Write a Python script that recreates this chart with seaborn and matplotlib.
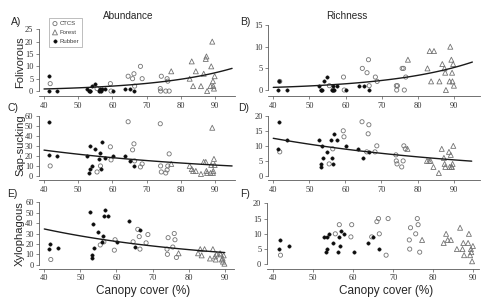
import numpy as np
import matplotlib
matplotlib.use("Agg")
import matplotlib.pyplot as plt
import seaborn as sns

# canopy cover (%) of each site, per land use
rubber_x = [41.4, 41.6, 43.8, 52.6, 53.2, 53.3, 53.5, 53.9, 54.9, 56.1, 56.4, 56.6, 56.9, 57.7, 60.2, 63.6, 65.0, 66.4]
ctcs_x = [41.8, 55.5, 56.5, 59.4, 59.6, 64.6, 65.9, 66.3, 66.5, 68.2, 68.7, 74.0, 74.1, 74.3, 75.6, 76.0, 76.2, 76.6]
forest_x = [77.2, 82.6, 83.2, 83.6, 84.4, 85.9, 86.7, 87.3, 87.5, 87.7, 88.7, 88.9, 89.2, 89.4, 89.5, 89.7, 89.9]

# A) folivorous abundance
fol_ab_rubber = [0, 6, 0, 1, 0, 0, 0, 2, 3, 0, 1, 0, 1, 1, 0, 1, 1, 0]
fol_ab_ctcs = [3, 1, 0, 3, 0, 6, 5, 7, 2, 10, 5, 1, 0, 6, 0, 5, 4, 0]
fol_ab_forest = [8, 5, 12, 2, 8, 2, 7, 13, 14, 0, 2, 10, 20, 4, 2, 1, 6]
# B) folivorous richness
fol_ri_rubber = [0, 2, 0, 1, 0, 0, 0, 2, 3, 0, 1, 0, 0, 1, 0, 1, 1, 0]
fol_ri_ctcs = [2, 1, 0, 3, 0, 5, 4, 7, 1, 3, 2, 1, 0, 1, 5, 5, 0, 3]
fol_ri_forest = [7, 5, 9, 2, 9, 2, 6, 5, 4, 0, 2, 10, 7, 4, 2, 6, 1]
# C) sap-sucking abundance
sap_ab_rubber = [21, 54, 20, 20, 3, 7, 30, 10, 27, 17, 23, 7, 34, 18, 20, 20, 15, 10]
sap_ab_ctcs = [10, 4, 10, 29, 16, 54, 26, 32, 15, 9, 12, 52, 10, 4, 3, 6, 10, 22]
sap_ab_forest = [12, 10, 7, 5, 5, 2, 14, 14, 5, 3, 3, 11, 48, 3, 5, 17, 11]
# D) sap-sucking richness
sap_ri_rubber = [9, 18, 12, 12, 4, 3, 10, 6, 8, 12, 6, 4, 14, 12, 10, 9, 6, 8]
sap_ri_ctcs = [8, 4, 9, 15, 13, 18, 8, 14, 17, 8, 10, 7, 5, 4, 3, 5, 10, 9]
sap_ri_forest = [9, 5, 5, 5, 3, 1, 9, 6, 4, 3, 8, 3, 7, 3, 3, 4, 10]
# E) xylophagous abundance
xyl_ab_rubber = [15, 20, 16, 51, 6, 9, 39, 16, 31, 22, 28, 47, 53, 47, 22, 42, 17, 33]
xyl_ab_ctcs = [5, 19, 22, 14, 24, 22, 34, 27, 15, 21, 29, 15, 10, 26, 17, 30, 24, 7]
xyl_ab_forest = [11, 11, 15, 9, 15, 6, 15, 8, 5, 10, 11, 10, 5, 6, 3, 9, 1]
# F) xylophagous richness
xyl_ri_rubber = [5, 8, 6, 9, 4, 5, 9, 10, 7, 4, 9, 6, 11, 10, 4, 7, 9, 5]
xyl_ri_ctcs = [3, 10, 13, 9, 13, 9, 14, 15, 10, 3, 15, 8, 5, 12, 10, 15, 13, 4]
xyl_ri_forest = [8, 7, 10, 8, 8, 5, 12, 5, 7, 3, 7, 10, 3, 5, 4, 1, 6]

x_ticks = [40, 50, 60, 70, 80, 90]


def poisson_fit(x, y):
    # plain poisson glm (log link) by IRLS
    X = np.column_stack([np.ones(len(x)), x])
    b = np.array([np.log(np.mean(y)), 0.0])
    for _ in range(100):
        eta = X @ b
        mu = np.exp(eta)
        z = eta + (y - mu) / mu
        b = np.linalg.solve(X.T @ (mu[:, None] * X), X.T @ (mu * z))
    return b


sns.set_style("ticks")
plt.rcParams["font.family"] = ["Liberation Sans", "DejaVu Sans"]

fig = plt.figure(figsize=(4.92, 3.06), dpi=100)
W, H = 492.0, 306.0

# (label, data, axes box in px [left, top, right, bottom], xlim, ylim, yticks, fit range)
panels = [
    ("A)", (fol_ab_rubber, fol_ab_ctcs, fol_ab_forest), (38.9, 26.8, 235.5, 96.0), (38.5, 96), (-2, 26), [0, 5, 10, 15, 20, 25], (40, 95)),
    ("B)", (fol_ri_rubber, fol_ri_ctcs, fol_ri_forest), (268.2, 22.9, 479.6, 96.1), (38.6, 97), (-1.4, 15.5), [0, 5, 10, 15], (40, 95)),
    ("C)", (sap_ab_rubber, sap_ab_ctcs, sap_ab_forest), (38.9, 113.7, 235.5, 180.0), (38.5, 96), (-4, 62), [0, 10, 20, 30, 40, 50, 60], (40, 95)),
    ("D)", (sap_ri_rubber, sap_ri_ctcs, sap_ri_forest), (268.2, 112.7, 480.0, 180.2), (38.6, 97.3), (-1.4, 21), [0, 5, 10, 15, 20], (40, 95)),
    ("E)", (xyl_ab_rubber, xyl_ab_ctcs, xyl_ab_forest), (39.25, 200.2, 233.8, 268.9), (38.6, 92.5), (-4, 62), [0, 10, 20, 30, 40, 50, 60], (40, 90)),
    ("F)", (xyl_ri_rubber, xyl_ri_ctcs, xyl_ri_forest), (266.9, 200.3, 478.5, 268.9), (38.4, 91.3), (-1.5, 21), [0, 5, 10, 15, 20], None),
]

axes = []
for name, (yr, yc, yf), (l, t, r, b), xlim, ylim, yticks, fit in panels:
    ax = fig.add_axes([l / W, 1 - b / H, (r - l) / W, (b - t) / H])
    axes.append(ax)
    sns.scatterplot(x=ctcs_x, y=yc, marker="o", s=9, facecolor="none", edgecolor="0.45",
                    linewidth=0.6, ax=ax, label="CTCS" if name == "A)" else None)
    sns.scatterplot(x=forest_x, y=yf, marker="^", s=13, facecolor="none", edgecolor="0.45",
                    linewidth=0.6, ax=ax, label="Forest" if name == "A)" else None)
    sns.scatterplot(x=rubber_x, y=yr, marker="o", s=6, color="0.05", edgecolor="0.05",
                    linewidth=0.3, ax=ax, label="Rubber" if name == "A)" else None)
    if fit is not None:
        xs = np.concatenate([rubber_x, ctcs_x, forest_x])
        ys = np.concatenate([yr, yc, yf]).astype(float)
        b0, b1 = poisson_fit(xs, ys)
        grid = np.linspace(fit[0], fit[1], 120)
        sns.lineplot(x=grid, y=np.exp(b0 + b1 * grid), color="0.1", linewidth=1.0, ax=ax)

    ax.set_xlim(*xlim)
    ax.set_ylim(*ylim)
    ax.set_xticks(x_ticks)
    ax.set_yticks(yticks)
    sns.despine(ax=ax)
    ax.spines["left"].set_bounds(yticks[0], yticks[-1])
    for s in ("left", "bottom"):
        ax.spines[s].set_color("0.35")
        ax.spines[s].set_linewidth(0.6)
    ax.tick_params(length=2.5, width=0.5, color="0.35", pad=1.5, labelsize=6, labelcolor="0.2")
    for lab in ax.get_xticklabels() + ax.get_yticklabels():
        lab.set_family("Liberation Serif")
    ax.set_xlabel("")
    ax.set_ylabel("")
    if ax.get_legend() is not None:
        ax.get_legend().remove()

leg = axes[0].legend(loc="upper left", bbox_to_anchor=(49 / W, 1 - 18 / H), bbox_transform=fig.transFigure,
                     fontsize=4.3, frameon=True, fancybox=False, edgecolor="0.55", borderpad=0.5,
                     labelspacing=0.6, handletextpad=0.3, handlelength=1.0, borderaxespad=0)
leg.get_frame().set_linewidth(0.5)
for t in leg.get_texts():
    t.set_color("0.25")

# column titles, panel letters and axis labels
fig.text(128 / W, 1 - 16 / H, "Abundance", ha="center", va="center", fontsize=7.2, color="0.15")
fig.text(347 / W, 1 - 16 / H, "Richness", ha="center", va="center", fontsize=7.2, color="0.15")
for txt, px, py in [("A)", 11, 22), ("B)", 240, 22), ("C)", 7, 108), ("D)", 238, 108), ("E)", 7, 194), ("F)", 240, 194)]:
    fig.text(px / W, 1 - py / H, txt, ha="left", va="center", fontsize=7.5, color="0.15")
for txt, py in [("Folivorous", 62), ("Sap-sucking", 145), ("Xylophagous", 234)]:
    fig.text(20 / W, 1 - py / H, txt, ha="center", va="center", rotation=90, fontsize=8, color="0.15")
fig.text(143 / W, 1 - 291 / H, "Canopy cover (%)", ha="center", va="center", fontsize=8.5, color="0.15")
fig.text(386 / W, 1 - 291 / H, "Canopy cover (%)", ha="center", va="center", fontsize=8.5, color="0.15")

fig.savefig("out.png", dpi=100)
